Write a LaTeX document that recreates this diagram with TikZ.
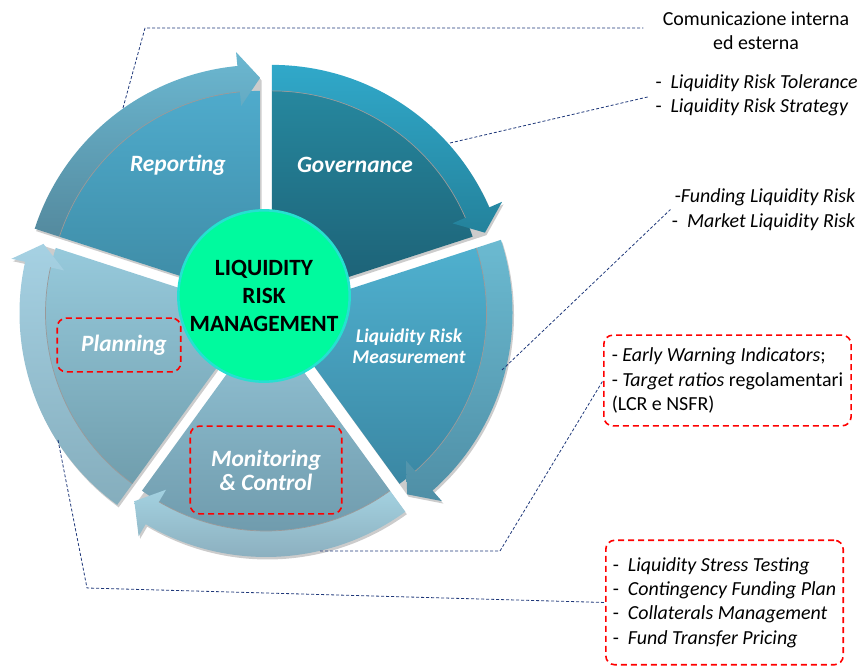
\documentclass[tikz,border=0pt]{standalone}
\usepackage{fontspec}
\setmainfont{Carlito}
\usetikzlibrary{calc}
\newcommand{\wheelseg}[7]{%
  \fill[black!20,shift={(1.5,-2.5)}] (#1) -- ([shift={(#3:224)}]#1) -- ([shift={(#3+5.5:251)}]#1) -- ([shift={(#3+5.5:237)}]#1) arc[start angle=#3+5.5,end angle=#2,radius=237] -- cycle;
  \shade[top color=#4,bottom color=#5] (#1) -- ([shift={(#3:211)}]#1) arc[start angle=#3,end angle=#2,radius=211] -- cycle;
  \shade[top color=#6,bottom color=#7] ([shift={(#2:237)}]#1) arc[start angle=#2,end angle=#3+5.5,radius=237] -- ([shift={(#3+5.5:251)}]#1) -- ([shift={(#3:224)}]#1) -- ([shift={(#3+5.5:197)}]#1) -- ([shift={(#3+5.5:211)}]#1) arc[start angle=#3+5.5,end angle=#2,radius=211] -- cycle;
  \draw[black!40,line width=0.7bp] ([shift={(#2:211)}]#1) arc[start angle=#2,end angle=#3+5.5,radius=211];
}
\begin{document}
\begin{tikzpicture}[>=latex,line join=bevel,x=1bp,y=1bp,
  seglabel/.style={text=white,align=center,font=\fontsize{23.5}{24}\selectfont\bfseries\itshape},
  focusbox/.style={draw=red,line width=1.6bp,dash pattern=on 6bp off 4bp,rounded corners=9bp},
  notes/.style={font=\fontsize{20}{24.5}\selectfont,inner sep=1bp},
  callout/.style={draw=navy,line width=0.8bp,dash pattern=on 3bp off 2bp}]
  \pgfsetlinewidth{1bp}
  \definecolor{navy}{rgb}{0.12,0.22,0.48}
  \useasboundingbox (0,0) rectangle (864,667);
%%
  % Node: reporting
\begin{scope}
  \definecolor{topcol}{rgb}{0.31,0.67,0.80}
  \definecolor{botcol}{rgb}{0.24,0.54,0.64}
  \definecolor{bandtop}{rgb}{0.42,0.72,0.82}
  \definecolor{bandbot}{rgb}{0.33,0.54,0.62}
  \wheelseg{260.1,365.1}{162}{90}{topcol}{botcol}{bandtop}{bandbot}
  \node[seglabel] (reporting) at (178,502) {Reporting};
\end{scope}
  % Node: governance
\begin{scope}
  \definecolor{topcol}{rgb}{0.15,0.53,0.62}
  \definecolor{botcol}{rgb}{0.11,0.37,0.45}
  \definecolor{bandtop}{rgb}{0.19,0.66,0.79}
  \definecolor{bandbot}{rgb}{0.14,0.51,0.61}
  \wheelseg{271.9,365.1}{90}{18}{topcol}{botcol}{bandtop}{bandbot}
  \node[seglabel] (governance) at (355,502) {Governance};
\end{scope}
  % Node: measurement
\begin{scope}
  \definecolor{topcol}{rgb}{0.31,0.69,0.81}
  \definecolor{botcol}{rgb}{0.23,0.53,0.64}
  \definecolor{bandtop}{rgb}{0.42,0.73,0.82}
  \definecolor{bandbot}{rgb}{0.31,0.56,0.65}
  \wheelseg{275.5,353.9}{18}{-54}{topcol}{botcol}{bandtop}{bandbot}
  \node[seglabel,font=\fontsize{19.5}{21}\selectfont\bfseries\itshape] (measurement) at (409,321) {Liquidity Risk\\Measurement};
\end{scope}
  % Node: monitoring
\begin{scope}
  \definecolor{topcol}{rgb}{0.58,0.77,0.84}
  \definecolor{botcol}{rgb}{0.43,0.60,0.67}
  \definecolor{bandtop}{rgb}{0.64,0.82,0.88}
  \definecolor{bandbot}{rgb}{0.53,0.66,0.72}
  \wheelseg{266,347}{-54}{-126}{topcol}{botcol}{bandtop}{bandbot}
  \node[seglabel,focusbox,minimum width=152,minimum height=88] (monitoring) at (266,197) {Monitoring\\\& Control};
\end{scope}
  % Node: planning
\begin{scope}
  \definecolor{topcol}{rgb}{0.59,0.79,0.86}
  \definecolor{botcol}{rgb}{0.44,0.62,0.68}
  \definecolor{bandtop}{rgb}{0.65,0.82,0.89}
  \definecolor{bandbot}{rgb}{0.52,0.68,0.74}
  \wheelseg{256.5,353.9}{234}{162}{topcol}{botcol}{bandtop}{bandbot}
  \node[seglabel,focusbox,minimum width=124,minimum height=54,inner xsep=0bp] (planning) at (119,322) {\hspace*{10bp}Planning};
\end{scope}
  % Node: lrm
\begin{scope}
  \definecolor{fillcol}{rgb}{0.0,0.98,0.62}
  \definecolor{strokecol}{rgb}{0.15,0.88,0.82}
  \node[circle,fill=fillcol,draw=strokecol,line width=2.5bp,minimum size=172,inner sep=0bp,align=center,
    font=\fontsize{23.4}{28}\selectfont\bfseries] (lrm) at (264,371) {LIQUIDITY\\RISK\\MANAGEMENT};
\end{scope}
  % Node: comm
  \node[notes,align=center] (comm) at (756,636.5) {Comunicazione interna\\ed esterna};
  % Node: tolerance
  \node[notes,align=left,anchor=west] (tolerance) at (654,571.5) {-\ \ \textit{Liquidity Risk Tolerance}\\-\ \ \textit{Liquidity Risk Strategy}};
  % Node: funding
  \node[notes,align=right,anchor=east] (funding) at (857,457.5) {-\textit{Funding Liquidity Risk}\\-\ \ \textit{Market Liquidity Risk}\ };
  % Node: warning
  \node[notes,focusbox,align=left,inner xsep=8bp,minimum height=91,anchor=west] (warning) at (603,286.5)
    {- \textit{Early Warning Indicators};\\- \textit{Target ratios} regolamentari\\(LCR e NSFR)};
  % Node: stress
  \node[notes,focusbox,align=left,inner xsep=7bp,minimum height=125,anchor=west] (stress) at (605,64.5)
    {-\ \ \textit{Liquidity Stress Testing}\\-\ \ \textit{Contingency Funding Plan}\\-\ \ \textit{Collaterals Management}\\-\ \ \textit{Fund Transfer Pricing}};
%
  \coordinate (r1) at (123,559);
  \coordinate (g1) at (450,524);
  \coordinate (m1) at (502,297);
  \coordinate (c1) at (320,116);
  \coordinate (p1) at (58,227);
  % Edge: reporting -> comm
  \draw[callout,shorten >=18bp] (r1) -- (145,639) -- (comm.west |- 0,639);
  % Edge: governance -> tolerance
  \draw[callout,shorten >=6bp] (g1) -- (tolerance.west);
  % Edge: measurement -> funding
  \draw[callout] (m1) -- (funding.west);
  % Edge: monitoring -> warning
  \draw[callout] (c1) -- (500,116) -- (warning.west);
  % Edge: planning -> stress
  \draw[callout] (p1) -- (87,79) -- (stress.west);
%
\end{tikzpicture}
\end{document}
